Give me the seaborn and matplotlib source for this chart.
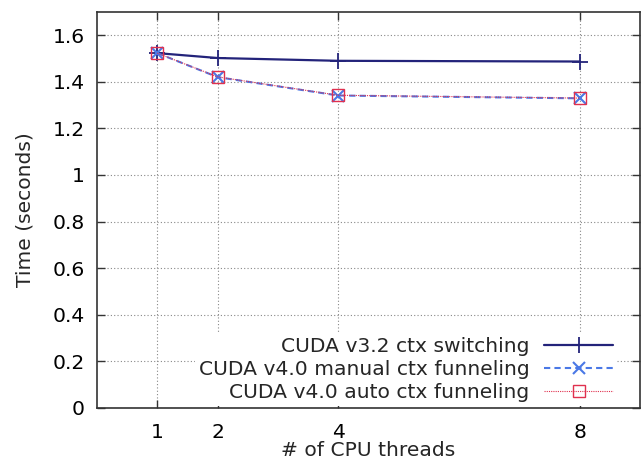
import matplotlib
matplotlib.use("Agg")
import matplotlib.pyplot as plt
import seaborn as sns
import pandas as pd

threads = [1, 2, 4, 8]
v32_switching = [1.523, 1.502, 1.490, 1.487]
v40_manual = [1.523, 1.420, 1.341, 1.329]
v40_auto = [1.523, 1.421, 1.342, 1.330]
series_names = ["CUDA v3.2 ctx switching", "CUDA v4.0 manual ctx funneling", "CUDA v4.0 auto ctx funneling"]
y_ticks = [0, 0.2, 0.4, 0.6, 0.8, 1, 1.2, 1.4, 1.6]
y_tick_labels = ["0", "0.2", "0.4", "0.6", "0.8", "1", "1.2", "1.4", "1.6"]

sns.set_theme(style="white")
plt.rcParams['font.family'] = ['DejaVu Sans']

df = pd.DataFrame({
    "threads": threads * 3,
    "time": v32_switching + v40_manual + v40_auto,
    "series": [series_names[0]] * 4 + [series_names[1]] * 4 + [series_names[2]] * 4,
})

FS = 14.6

fig = plt.figure(figsize=(6.42, 4.66), dpi=100)
ax = fig.add_axes([0.151, 0.1245, 0.846, 0.85])

styles = [
    dict(color="#23237a", linestyle="-", marker="+", markersize=12, mew=1.3, lw=1.6),
    dict(color="#4a78e6", linestyle=(0, (3, 2)), marker="x", markersize=9, mew=1.5, lw=1.5),
    dict(color="#e0304e", linestyle=(0, (1, 1)), marker="s", markersize=9, mew=1.0, lw=0.8),
]
for name, st in zip(series_names, styles):
    sub = df[df["series"] == name]
    sns.lineplot(data=sub, x="threads", y="time", ax=ax, label=name,
                 color=st["color"], linestyle=st["linestyle"], lw=st["lw"],
                 marker=st["marker"], markersize=st["markersize"],
                 markeredgewidth=st["mew"], markerfacecolor="none",
                 markeredgecolor=st["color"])

ax.set_xlim(0, 9)
ax.set_ylim(0, 1.7)
ax.set_xticks(threads)
ax.set_xticklabels([str(t) for t in threads], fontsize=FS)
ax.set_yticks(y_ticks)
ax.set_yticklabels(y_tick_labels, fontsize=FS)
ax.set_xlabel("# of CPU threads", fontsize=FS, labelpad=-1)
ax.set_ylabel("Time (seconds)", fontsize=FS, labelpad=13)

ax.grid(True, color="#888888", linestyle=(0, (1, 2)), linewidth=0.8)
ax.tick_params(axis="x", direction="in", length=6, width=1, color="#333333",
               top=True, bottom=True, pad=11, labelcolor="black")
ax.tick_params(axis="y", direction="in", length=6, width=1, color="#333333",
               left=True, right=True, pad=9, labelcolor="black")
for sp in ax.spines.values():
    sp.set_visible(True)
    sp.set_color("#333333")
    sp.set_linewidth(1.2)

leg = ax.legend(loc="lower right", bbox_to_anchor=(0.958, 0.005), fontsize=FS,
                markerfirst=False, frameon=True,
                framealpha=1, edgecolor="none", facecolor="white",
                handlelength=3.4, handletextpad=0.72, labelspacing=0.2,
                borderaxespad=0.0, borderpad=0.2)
for t in leg.get_texts():
    t.set_ha("right")
leg._legend_box.align = "right"
for vp in leg._legend_handle_box.get_children():
    vp.align = "right"

fig.savefig("out.png", dpi=100)
